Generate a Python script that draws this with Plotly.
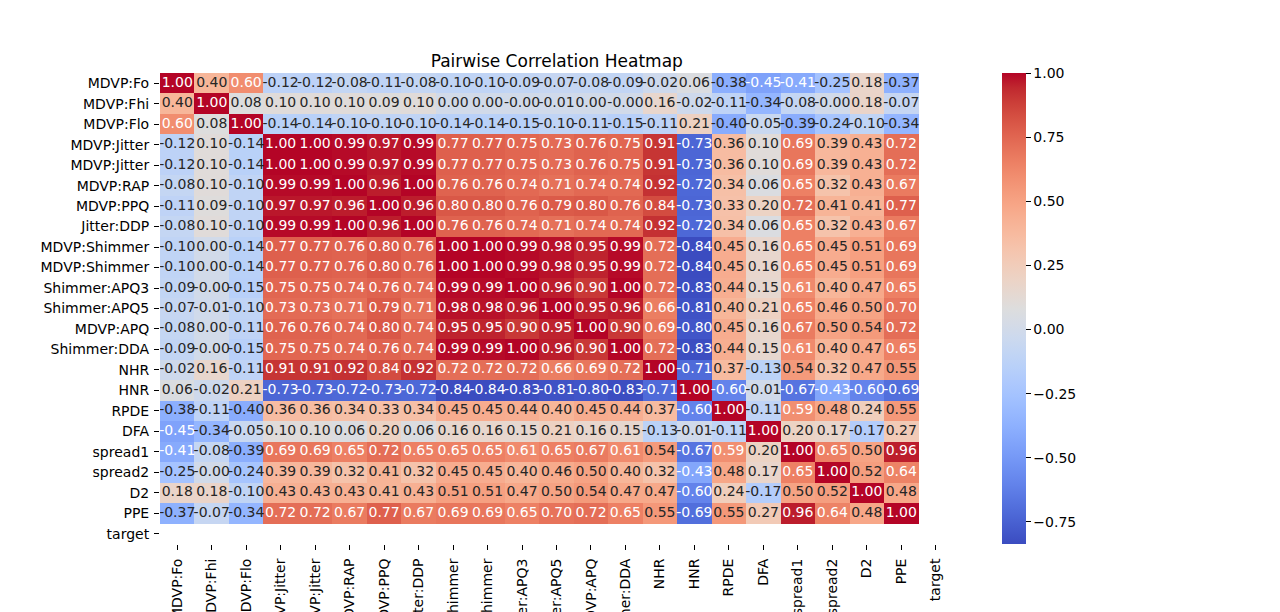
import numpy as np
import plotly.graph_objects as go

labels = ["MDVP:Fo", "MDVP:Fhi", "MDVP:Flo", "MDVP:Jitter", "MDVP:Jitter", "MDVP:RAP",
          "MDVP:PPQ", "Jitter:DDP", "MDVP:Shimmer", "MDVP:Shimmer", "Shimmer:APQ3",
          "Shimmer:APQ5", "MDVP:APQ", "Shimmer:DDA", "NHR", "HNR", "RPDE", "DFA",
          "spread1", "spread2", "D2", "PPE", "target"]

r_fo = [1.00, 0.40, 0.60, -0.12, -0.12, -0.08, -0.11, -0.08, -0.10, -0.10, -0.09, -0.07, -0.08, -0.09, -0.02, 0.06, -0.38, -0.45, -0.41, -0.25, 0.18, -0.37]
r_fhi = [0.40, 1.00, 0.08, 0.10, 0.10, 0.10, 0.09, 0.10, 0.00, 0.00, -0.00, -0.01, 0.00, -0.00, 0.16, -0.02, -0.11, -0.34, -0.08, -0.00, 0.18, -0.07]
r_flo = [0.60, 0.08, 1.00, -0.14, -0.14, -0.10, -0.10, -0.10, -0.14, -0.14, -0.15, -0.10, -0.11, -0.15, -0.11, 0.21, -0.40, -0.05, -0.39, -0.24, -0.10, -0.34]
r_jit = [-0.12, 0.10, -0.14, 1.00, 1.00, 0.99, 0.97, 0.99, 0.77, 0.77, 0.75, 0.73, 0.76, 0.75, 0.91, -0.73, 0.36, 0.10, 0.69, 0.39, 0.43, 0.72]
r_jit2 = [-0.12, 0.10, -0.14, 1.00, 1.00, 0.99, 0.97, 0.99, 0.77, 0.77, 0.75, 0.73, 0.76, 0.75, 0.91, -0.73, 0.36, 0.10, 0.69, 0.39, 0.43, 0.72]
r_rap = [-0.08, 0.10, -0.10, 0.99, 0.99, 1.00, 0.96, 1.00, 0.76, 0.76, 0.74, 0.71, 0.74, 0.74, 0.92, -0.72, 0.34, 0.06, 0.65, 0.32, 0.43, 0.67]
r_ppq = [-0.11, 0.09, -0.10, 0.97, 0.97, 0.96, 1.00, 0.96, 0.80, 0.80, 0.76, 0.79, 0.80, 0.76, 0.84, -0.73, 0.33, 0.20, 0.72, 0.41, 0.41, 0.77]
r_ddp = [-0.08, 0.10, -0.10, 0.99, 0.99, 1.00, 0.96, 1.00, 0.76, 0.76, 0.74, 0.71, 0.74, 0.74, 0.92, -0.72, 0.34, 0.06, 0.65, 0.32, 0.43, 0.67]
r_shim = [-0.10, 0.00, -0.14, 0.77, 0.77, 0.76, 0.80, 0.76, 1.00, 1.00, 0.99, 0.98, 0.95, 0.99, 0.72, -0.84, 0.45, 0.16, 0.65, 0.45, 0.51, 0.69]
r_shim2 = [-0.10, 0.00, -0.14, 0.77, 0.77, 0.76, 0.80, 0.76, 1.00, 1.00, 0.99, 0.98, 0.95, 0.99, 0.72, -0.84, 0.45, 0.16, 0.65, 0.45, 0.51, 0.69]
r_apq3 = [-0.09, -0.00, -0.15, 0.75, 0.75, 0.74, 0.76, 0.74, 0.99, 0.99, 1.00, 0.96, 0.90, 1.00, 0.72, -0.83, 0.44, 0.15, 0.61, 0.40, 0.47, 0.65]
r_apq5 = [-0.07, -0.01, -0.10, 0.73, 0.73, 0.71, 0.79, 0.71, 0.98, 0.98, 0.96, 1.00, 0.95, 0.96, 0.66, -0.81, 0.40, 0.21, 0.65, 0.46, 0.50, 0.70]
r_apq = [-0.08, 0.00, -0.11, 0.76, 0.76, 0.74, 0.80, 0.74, 0.95, 0.95, 0.90, 0.95, 1.00, 0.90, 0.69, -0.80, 0.45, 0.16, 0.67, 0.50, 0.54, 0.72]
r_dda = [-0.09, -0.00, -0.15, 0.75, 0.75, 0.74, 0.76, 0.74, 0.99, 0.99, 1.00, 0.96, 0.90, 1.00, 0.72, -0.83, 0.44, 0.15, 0.61, 0.40, 0.47, 0.65]
r_nhr = [-0.02, 0.16, -0.11, 0.91, 0.91, 0.92, 0.84, 0.92, 0.72, 0.72, 0.72, 0.66, 0.69, 0.72, 1.00, -0.71, 0.37, -0.13, 0.54, 0.32, 0.47, 0.55]
r_hnr = [0.06, -0.02, 0.21, -0.73, -0.73, -0.72, -0.73, -0.72, -0.84, -0.84, -0.83, -0.81, -0.80, -0.83, -0.71, 1.00, -0.60, -0.01, -0.67, -0.43, -0.60, -0.69]
r_rpde = [-0.38, -0.11, -0.40, 0.36, 0.36, 0.34, 0.33, 0.34, 0.45, 0.45, 0.44, 0.40, 0.45, 0.44, 0.37, -0.60, 1.00, -0.11, 0.59, 0.48, 0.24, 0.55]
r_dfa = [-0.45, -0.34, -0.05, 0.10, 0.10, 0.06, 0.20, 0.06, 0.16, 0.16, 0.15, 0.21, 0.16, 0.15, -0.13, -0.01, -0.11, 1.00, 0.20, 0.17, -0.17, 0.27]
r_sp1 = [-0.41, -0.08, -0.39, 0.69, 0.69, 0.65, 0.72, 0.65, 0.65, 0.65, 0.61, 0.65, 0.67, 0.61, 0.54, -0.67, 0.59, 0.20, 1.00, 0.65, 0.50, 0.96]
r_sp2 = [-0.25, -0.00, -0.24, 0.39, 0.39, 0.32, 0.41, 0.32, 0.45, 0.45, 0.40, 0.46, 0.50, 0.40, 0.32, -0.43, 0.48, 0.17, 0.65, 1.00, 0.52, 0.64]
r_d2 = [0.18, 0.18, -0.10, 0.43, 0.43, 0.43, 0.41, 0.43, 0.51, 0.51, 0.47, 0.50, 0.54, 0.47, 0.47, -0.60, 0.24, -0.17, 0.50, 0.52, 1.00, 0.48]
r_ppe = [-0.37, -0.07, -0.34, 0.72, 0.72, 0.67, 0.77, 0.67, 0.69, 0.69, 0.65, 0.70, 0.72, 0.65, 0.55, -0.69, 0.55, 0.27, 0.96, 0.64, 0.48, 1.00]

rows = [r_fo, r_fhi, r_flo, r_jit, r_jit2, r_rap, r_ppq, r_ddp, r_shim, r_shim2, r_apq3,
        r_apq5, r_apq, r_dda, r_nhr, r_hnr, r_rpde, r_dfa, r_sp1, r_sp2, r_d2, r_ppe]

n = len(labels)
z = np.full((n, n), np.nan)
for i, r in enumerate(rows):
    z[i, :len(r)] = r

zmin = -0.836
zmax = 1.0

cw = [
    (0.0, (59, 76, 192)), (0.03125, (68, 90, 204)), (0.0625, (77, 104, 215)),
    (0.09375, (87, 117, 225)), (0.125, (98, 130, 234)), (0.15625, (108, 142, 241)),
    (0.1875, (119, 154, 247)), (0.21875, (130, 165, 251)), (0.25, (141, 176, 254)),
    (0.28125, (152, 185, 255)), (0.3125, (163, 194, 255)), (0.34375, (174, 201, 253)),
    (0.375, (184, 208, 249)), (0.40625, (194, 213, 244)), (0.4375, (204, 217, 238)),
    (0.46875, (213, 219, 230)), (0.5, (221, 221, 221)), (0.53125, (229, 216, 209)),
    (0.5625, (236, 211, 197)), (0.59375, (241, 204, 185)), (0.625, (245, 196, 173)),
    (0.65625, (247, 187, 160)), (0.6875, (247, 177, 148)), (0.71875, (247, 166, 135)),
    (0.75, (244, 154, 123)), (0.78125, (241, 141, 111)), (0.8125, (236, 127, 99)),
    (0.84375, (229, 112, 88)), (0.875, (222, 96, 77)), (0.90625, (213, 80, 66)),
    (0.9375, (203, 62, 56)), (0.96875, (192, 40, 47)), (1.0, (180, 4, 38)),
]
colorscale = [[p, f"rgb{c}"] for p, c in cw]
cw_pos = np.array([p for p, _ in cw])
cw_rgb = np.array([c for _, c in cw], dtype=float)


def lum_of(v):
    t = (v - zmin) / (zmax - zmin)
    t = min(max(t, 0), 1)
    rgb = np.array([np.interp(t, cw_pos, cw_rgb[:, k]) for k in range(3)]) / 255.0
    rgb = np.where(rgb <= 0.03928, rgb / 12.92, ((rgb + 0.055) / 1.055) ** 2.4)
    return 0.2126 * rgb[0] + 0.7152 * rgb[1] + 0.0722 * rgb[2]


tx, ty, tt, tc = [], [], [], []
for i in range(n):
    for j in range(n):
        v = z[i, j]
        if np.isnan(v):
            continue
        tx.append(j)
        ty.append(i)
        tt.append(f"{v:.2f}")
        tc.append("rgb(38,38,38)" if lum_of(v) > 0.408 else "white")

FONT = "DejaVu Sans"

# page body has an 8px margin; compensate so the plot lands where the reference has it
L, T = 152.0, 65.3
PW, PH = 793.5, 470.4

fig = go.Figure()
fig.add_trace(go.Heatmap(
    z=z, x=list(range(n)), y=list(range(n)),
    colorscale=colorscale, zmin=zmin, zmax=zmax,
    hoverongaps=False,
    colorbar=dict(
        x=1.062, xanchor="left", xref="paper",
        y=0.5, yanchor="middle", len=1.0, lenmode="fraction",
        xpad=0, ypad=0,
        thickness=24, thicknessmode="pixels",
        outlinewidth=0,
        tickvals=[-0.75, -0.5, -0.25, 0.0, 0.25, 0.5, 0.75, 1.0],
        ticktext=["\u22120.75", "\u22120.50", "\u22120.25", "0.00", "0.25", "0.50", "0.75", "1.00"],
        ticks="outside", ticklen=5, tickwidth=1, tickcolor="black",
        tickfont=dict(family=FONT, size=14, color="black"),
    ),
))
fig.add_trace(go.Scatter(
    x=tx, y=ty, text=tt, mode="text",
    textposition="middle center",
    textfont=dict(family=FONT, size=14, color=tc),
    hoverinfo="skip", showlegend=False,
))

fig.update_layout(
    width=1280, height=612,
    margin=dict(l=L, r=1280 - L - PW, t=T, b=612 - T - PH, autoexpand=False),
    paper_bgcolor="white", plot_bgcolor="white",
    title=dict(text="Pairwise Correlation Heatmap", x=(L + PW / 2) / 1280, xanchor="center",
               y=1 - T / 612, yanchor="bottom", yref="container",
               pad=dict(b=6),
               font=dict(family=FONT, size=17, color="black")),
    showlegend=False,
)
fig.update_xaxes(
    range=[-0.5, n - 0.5], tickmode="array", tickvals=list(range(n)), ticktext=labels,
    tickangle=-90, ticks="outside", ticklen=5, tickwidth=1, tickcolor="black",
    ticklabelstandoff=3,
    tickfont=dict(family=FONT, size=14, color="black"),
    showgrid=False, zeroline=False, showline=False, automargin=False,
)
fig.update_yaxes(
    range=[n - 0.5, -0.5], tickmode="array", tickvals=list(range(n)), ticktext=labels,
    ticks="outside", ticklen=5, tickwidth=1, tickcolor="black",
    ticklabelstandoff=2,
    tickfont=dict(family=FONT, size=14, color="black"),
    showgrid=False, zeroline=False, showline=False, automargin=False,
)

fig.write_html("out.html")
